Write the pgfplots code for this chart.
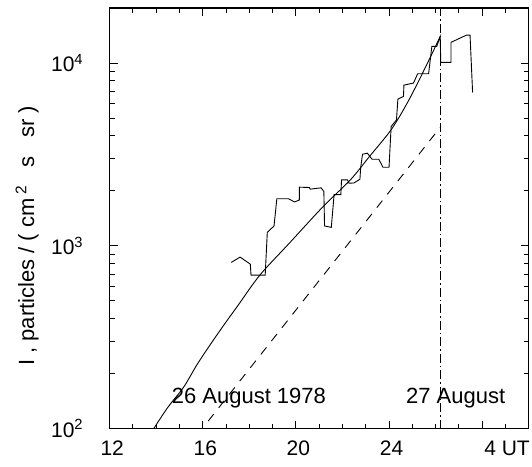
\documentclass[border=0pt]{standalone}
\usepackage{fontspec}
\setmainfont{Liberation Sans}
\usepackage{pgfplots}
\pgfplotsset{compat=1.18}

% measured flux, smooth fit and shifted fit
\pgfplotstableread{
t I
17.22 812
17.60 868
18.04 795
18.07 692
18.68 692
18.77 1186
19.06 1285
19.18 1811
19.68 1811
19.94 1738
20.15 1783
20.15 2094
20.58 2086
20.61 2042
21.08 2077
21.20 1982
21.23 1285
21.52 1262
21.64 1906
21.93 1906
21.96 2296
22.22 2296
22.28 2200
22.49 2208
22.75 2314
22.78 2667
22.86 3170
23.07 3212
23.27 2978
23.56 2978
23.74 2692
24.00 2692
24.09 4497
24.32 4888
24.38 6350
24.62 6566
24.64 7573
25.05 7770
25.23 8740
25.70 8740
25.84 12330
26.05 12330
26.20 13990
26.22 10090
26.66 10090
26.66 12970
27.33 14220
27.48 14220
27.59 6900
}\measured

\pgfplotstableread{
t I
13.89 100
14.50 131
15.18 169
15.75 224
16.35 292
16.95 376
17.52 474
18.45 692
19.71 1032
21.17 1641
22.34 2296
23.16 3083
24.09 4316
24.82 6166
25.55 9397
26.20 13990
}\fit

\begin{document}
\begin{tikzpicture}
\begin{axis}[
  name=main,
  scale only axis,
  width=419pt, height=420.7pt,
  ymode=log,
  xmin=12, xmax=30, ymin=100, ymax=20000,
  xtick={12,16,20,24,28},
  xticklabels={12,16,20,24,\hspace{11pt}4\rlap{ UT}},
  minor xtick={13,14,15,17,18,19,21,22,23,25,26,27,29},
  ytick={100,1000,10000},
  yticklabels={10\textsuperscript{2},10\textsuperscript{3},10\textsuperscript{4}},
  minor ytick={200,300,400,500,600,700,800,900,2000,3000,4000,5000,6000,7000,8000,9000},
  tick align=inside,
  major tick length=8pt, minor tick length=5pt,
  tick style={black, line width=1pt},
  axis line style={line width=1.2pt},
  xticklabel style={font=\fontsize{21}{25}\selectfont, yshift=-9pt, xshift=2.5pt},
  yticklabel style={font=\fontsize{21}{25}\selectfont, xshift=-23pt},
  ylabel={I\ ,\ particles\ /\ (\ cm\,\textsuperscript{2}\ \ \ s\ \ \ sr\ )},
  ylabel style={font=\fontsize{22}{26}\selectfont, at={(axis description cs:-0.197,0.458)}, anchor=center},
]
\addplot[black, line width=0.9pt] table[x=t, y=I] {\measured};
\addplot[black, line width=0.9pt, smooth] table[x=t, y=I] {\fit};
\addplot[black, line width=0.9pt, dash pattern=on 9pt off 8pt] coordinates {(16.23,110) (26.20,4450)};
\addplot[black, line width=0.9pt, dash pattern=on 9pt off 3pt on 1.5pt off 3pt] coordinates {(26.2,100) (26.2,20000)};
\node[font=\fontsize{22}{26}\selectfont, anchor=base] at (axis cs:17.98,136.5) {26 August 1978};
\node[font=\fontsize{22}{26}\selectfont, anchor=base] at (axis cs:26.86,136.5) {27 August};
\end{axis}
\path (main.south west) ++(-109.7pt,-37.3pt) rectangle ++(532pt,466pt);
\end{tikzpicture}
\end{document}
